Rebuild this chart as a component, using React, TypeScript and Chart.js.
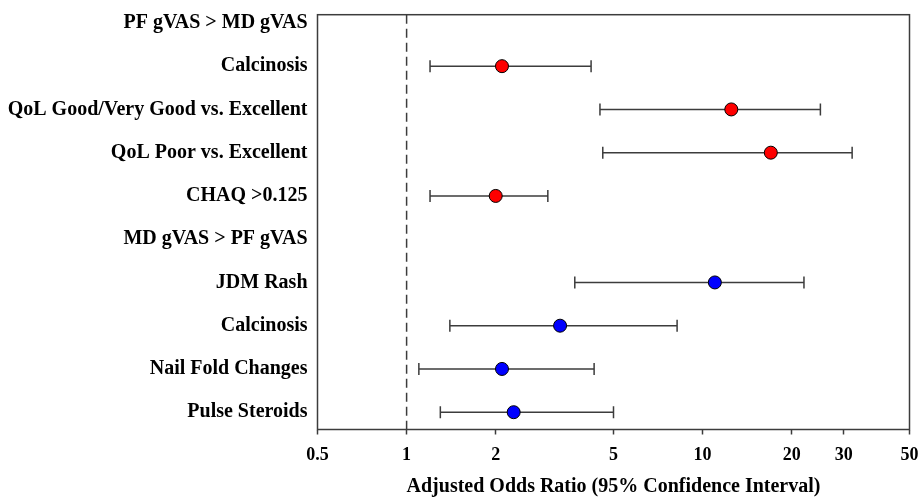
import React, { useEffect, useRef } from "react";
import { Chart, registerables } from "chart.js";

Chart.register(...registerables);

// ---- Data ----
const rowLabels = [
  "PF gVAS > MD gVAS",
  "Calcinosis",
  "QoL Good/Very Good vs. Excellent",
  "QoL Poor vs. Excellent",
  "CHAQ >0.125",
  "MD gVAS > PF gVAS",
  "JDM Rash",
  "Calcinosis",
  "Nail Fold Changes",
  "Pulse Steroids",
];
const oddsRatio: (number | null)[] = [null, 2.1, 12.5, 17, 2.0, null, 11, 3.3, 2.1, 2.3];
const ciLower: (number | null)[] = [null, 1.2, 4.5, 4.6, 1.2, null, 3.7, 1.4, 1.1, 1.3];
const ciUpper: (number | null)[] = [null, 4.2, 25, 32, 3.0, null, 22, 8.2, 4.3, 5.0];
const pfRows = [1, 2, 3, 4]; // PF gVAS > MD gVAS (red)
const mdRows = [6, 7, 8, 9]; // MD gVAS > PF gVAS (blue)
const xTickValues = [0.5, 1, 2, 5, 10, 20, 30, 50];
const referenceOR = 1;
const xAxisTitle = "Adjusted Odds Ratio (95% Confidence Interval)";

const FONT = '"Liberation Serif", "Times New Roman", Times, serif';
const LINE = "#3c3c3c";

const forestPlugin = {
  id: "forestPlugin",
  beforeDatasetsDraw(chart: any) {
    const { ctx, chartArea, scales } = chart;
    const x = scales.x;
    const y = scales.y;
    ctx.save();
    // reference line at OR = 1
    const rx = x.getPixelForValue(referenceOR);
    ctx.strokeStyle = LINE;
    ctx.lineWidth = 1.5;
    ctx.setLineDash([9, 5]);
    ctx.beginPath();
    ctx.moveTo(rx, chartArea.top);
    ctx.lineTo(rx, chartArea.bottom);
    ctx.stroke();
    ctx.setLineDash([]);
    // confidence intervals
    rowLabels.forEach((_, i) => {
      const lo = ciLower[i];
      const hi = ciUpper[i];
      if (lo == null || hi == null) return;
      const py = y.getPixelForValue(i);
      const x1 = x.getPixelForValue(lo);
      const x2 = x.getPixelForValue(hi);
      ctx.beginPath();
      ctx.moveTo(x1, py);
      ctx.lineTo(x2, py);
      ctx.moveTo(x1, py - 6);
      ctx.lineTo(x1, py + 6);
      ctx.moveTo(x2, py - 6);
      ctx.lineTo(x2, py + 6);
      ctx.stroke();
    });
    // frame
    ctx.strokeRect(chartArea.left, chartArea.top, chartArea.right - chartArea.left, chartArea.bottom - chartArea.top);
    ctx.restore();
  },
};

export default function App() {
  const canvasRef = useRef<HTMLCanvasElement | null>(null);

  useEffect(() => {
    if (!canvasRef.current) return;
    const toPoints = (rows: number[]) =>
      rows.filter((i) => oddsRatio[i] != null).map((i) => ({ x: oddsRatio[i] as number, y: i }));

    const chart = new Chart(canvasRef.current, {
      type: "scatter",
      data: {
        datasets: [
          {
            label: rowLabels[0],
            data: toPoints(pfRows),
            backgroundColor: "#ff0000",
            borderColor: "#000000",
            borderWidth: 1,
            pointRadius: 6.5,
            pointHoverRadius: 6.5,
          },
          {
            label: rowLabels[5],
            data: toPoints(mdRows),
            backgroundColor: "#0000ff",
            borderColor: "#000000",
            borderWidth: 1,
            pointRadius: 6.5,
            pointHoverRadius: 6.5,
          },
        ],
      },
      options: {
        animation: false,
        responsive: false,
        devicePixelRatio: 1,
        layout: { padding: { left: 0, right: 11.5, top: 14.7, bottom: 0 } },
        plugins: {
          legend: { display: false },
          tooltip: { enabled: false },
        },
        scales: {
          x: {
            type: "logarithmic",
            position: "bottom",
            min: 0.5,
            max: 50,
            afterBuildTicks: (scale: any) => {
              scale.ticks = xTickValues.map((v) => ({ value: v }));
            },
            afterFit: (scale: any) => {
              scale.height = 69.5;
              scale.paddingLeft = 0;
              scale.paddingRight = 0;
            },
            border: { display: false },
            grid: {
              drawOnChartArea: false,
              drawTicks: true,
              tickLength: 5,
              tickColor: LINE,
              tickWidth: 1.5,
            },
            ticks: {
              autoSkip: false,
              maxRotation: 0,
              padding: 10,
              color: "#000",
              font: { family: FONT, size: 18, weight: "bold" },
              callback: (v: any) => String(v),
            },
            title: {
              display: true,
              text: xAxisTitle,
              color: "#000",
              padding: { top: 0, bottom: 0 },
              font: { family: FONT, size: 20, weight: "bold" },
            },
          },
          y: {
            type: "linear",
            reverse: true,
            min: -0.19,
            max: 9.4,
            afterBuildTicks: (scale: any) => {
              scale.ticks = rowLabels.map((_, i) => ({ value: i }));
            },
            afterFit: (scale: any) => {
              scale.width = 317.5;
              scale.paddingTop = 0;
              scale.paddingBottom = 0;
            },
            border: { display: false },
            grid: { display: false, drawTicks: false },
            ticks: {
              autoSkip: false,
              padding: 10,
              color: "#000",
              font: { family: FONT, size: 20, weight: "bold" },
              callback: (v: any) => rowLabels[v as number] ?? "",
            },
          },
        },
      },
      plugins: [forestPlugin],
    } as any);

    return () => chart.destroy();
  }, []);

  return (
    <div style={{ position: "fixed", left: 0, top: 0, width: 921, height: 499, background: "#fff" }}>
      <canvas ref={canvasRef} width={921} height={499} style={{ width: 921, height: 499 }} />
    </div>
  );
}
